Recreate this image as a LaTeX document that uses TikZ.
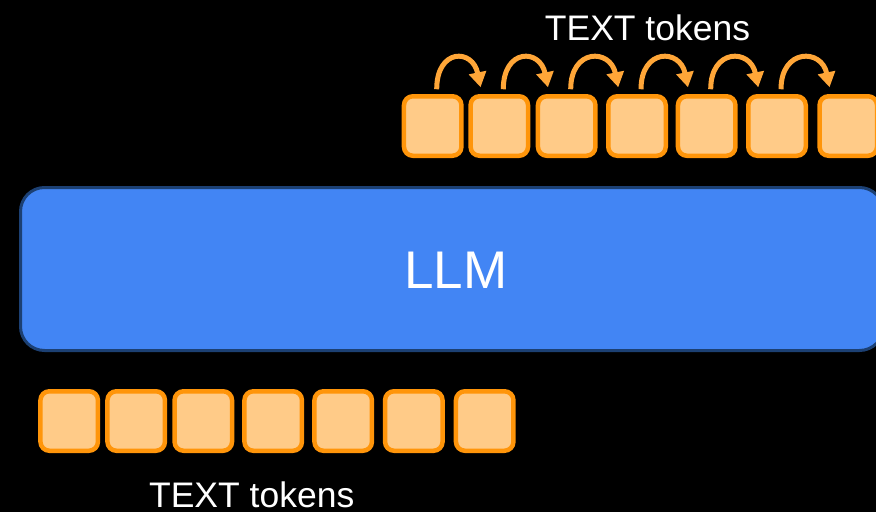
\documentclass[tikz,border=0pt]{standalone}
\usepackage{fontspec}
\setmainfont{Liberation Sans}
\usetikzlibrary{arrows.meta}
\definecolor{tokfill}{RGB}{255,203,136}
\definecolor{tokedge}{RGB}{255,149,10}
\definecolor{arrowc}{RGB}{255,166,56}
\definecolor{llmfill}{RGB}{66,133,244}
\definecolor{llmedge}{RGB}{28,64,115}
\begin{document}
\begin{tikzpicture}[x=1pt,y=-1pt,
  token/.style={draw=tokedge, fill=tokfill, line width=4.5pt, rounded corners=9pt,
    minimum width=57.5pt, minimum height=59.5pt, inner sep=0pt, outer sep=0pt},
  llmbox/.style={draw=llmedge, fill=llmfill, line width=3pt, rounded corners=24pt,
    minimum width=863pt, minimum height=163pt, inner sep=0pt, outer sep=0pt},
  bigtext/.style={text=white, font=\fontsize{53}{58}\selectfont, inner sep=0pt},
  lbl/.style={text=white, font=\fontsize{35.5}{40}\selectfont, inner sep=0pt},
  nextarrow/.style={draw=arrowc, line width=5pt, -{Triangle[length=15pt,width=17pt]}}
]
\useasboundingbox (0,0) rectangle (876,512);
\clip (0,0) rectangle (876,512);
\fill[black] (0,0) rectangle (876,512);

% the model
\node[llmbox] (llm) at (452,269) {};
\node[bigtext] (llmname) at (456,270) {LLM};

% output tokens above the model
\foreach \n/\x in {1/432.7,2/499.3,3/566.7,4/637,5/706.7,6/777,7/848.3}
  \node[token] (o\n) at (\x,126) {};

% input tokens below the model
\foreach \n/\x in {1/69.2,2/136.2,3/203.3,4/273.2,5/343.2,6/413.8,7/484.7}
  \node[token] (i\n) at (\x,421) {};

% autoregressive steps from one output token to the next
\foreach \a/\b in {o1/o2,o2/o3,o3/o4,o4/o5,o5/o6,o6/o7}
  \draw[nextarrow] ([xshift=4pt,yshift=7pt]\a.north)
    .. controls +(0,-41) and +(-8,-39) .. ([xshift=10pt,yshift=9pt]\b.north west);

% labels
\node[lbl] (tout) at (647.5,28.3) {TEXT tokens};
\node[lbl] (tin) at (251.7,495) {TEXT tokens};
\end{tikzpicture}
\end{document}
